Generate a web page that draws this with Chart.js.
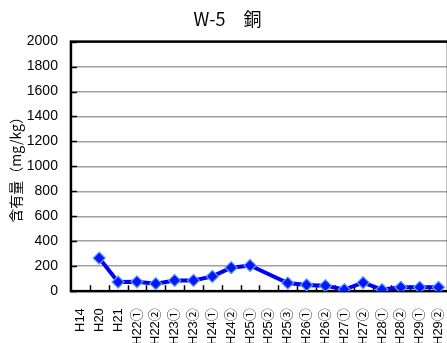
<!DOCTYPE html>
<html lang="ja">
<head>
<meta charset="utf-8">
<title>W-5 銅</title>
<script src="https://cdn.jsdelivr.net/npm/chart.js@4/dist/chart.umd.min.js"></script>
<style>
  html, body { margin: 0; padding: 0; background: #fff; overflow: hidden; }
  canvas { display: block; }
</style>
</head>
<body>
<canvas id="grafico" width="466" height="354"></canvas>
<script>
// 調査時期
const periodos = ['H14', 'H20', 'H21', 'H22①', 'H22②', 'H23①', 'H23②', 'H24①', 'H24②',
  'H25①', 'H25②', 'H25③', 'H26①', 'H26②', 'H27①', 'H27②', 'H28①', 'H28②', 'H29①', 'H29②'];
// 銅の含有量 (mg/kg)、欠測は null
const cobre = [null, 265, 73, 75, 60, 86, 86, 118, 188, 206, null, 65, 50, 44, 13, 68, 13, 31, 31, 31];
const eixoYMax = 2000;
const eixoYPasso = 200;

// 枠線と内向きの目盛り
const molduraPlugin = {
  id: 'moldura',
  beforeDatasetsDraw(chart) {
    const { ctx, chartArea: a, scales: { x, y } } = chart;
    ctx.save();
    ctx.strokeStyle = '#000';
    ctx.lineWidth = 1.5;
    ctx.beginPath();
    const passo = x.width / x.ticks.length;
    for (let i = 1; i < x.ticks.length; i++) {
      const px = Math.round(x.getPixelForTick(i) - passo / 2) + 0.5;
      ctx.moveTo(px, a.bottom);
      ctx.lineTo(px, a.bottom - 6);
    }
    y.ticks.forEach((t, i) => {
      const py = Math.round(y.getPixelForTick(i)) + 0.5;
      ctx.moveTo(a.left, py);
      ctx.lineTo(a.left + 6, py);
    });
    ctx.stroke();
    ctx.lineWidth = 2.5;
    ctx.strokeRect(a.left, a.top, a.right - a.left, a.bottom - a.top);
    ctx.restore();
  }
};

new Chart(document.getElementById('grafico'), {
  type: 'line',
  data: {
    labels: periodos,
    datasets: [{
      label: '銅',
      data: cobre,
      borderColor: '#0000ff',
      borderWidth: 4,
      backgroundColor: '#0000ff',
      pointStyle: 'rectRot',
      pointRadius: 6,
      pointBackgroundColor: '#0a14ff',
      pointBorderColor: '#5aa0f0',
      pointBorderWidth: 1.2,
      spanGaps: true,
      tension: 0
    }]
  },
  plugins: [molduraPlugin],
  options: {
    responsive: false,
    animation: false,
    layout: { padding: { left: 7, right: 18, top: 2, bottom: 0 } },
    plugins: {
      legend: { display: false },
      tooltip: { enabled: false },
      title: {
        display: true,
        text: 'W-5\u3000銅',
        color: '#000',
        font: { family: '"Noto Sans CJK JP"', size: 18, weight: 'normal' },
        padding: { top: 6, bottom: 12 }
      }
    },
    scales: {
      x: {
        offset: true,
        grid: { display: false, offset: true },
        border: { display: false },
        ticks: {
          color: '#000',
          minRotation: 90,
          maxRotation: 90,
          padding: 9,
          autoSkip: false,
          font: { family: '"Liberation Sans", "Noto Sans CJK JP"', size: 13 }
        }
      },
      y: {
        min: 0,
        max: eixoYMax,
        grid: { color: '#a0a0a0', lineWidth: 1.5, drawTicks: false },
        border: { display: false },
        ticks: {
          stepSize: eixoYPasso,
          color: '#000',
          padding: 13,
          callback: v => String(v),
          font: { family: '"Liberation Sans"', size: 14 }
        },
        title: {
          display: true,
          text: '含有量（mg/kg）',
          color: '#000',
          padding: { top: 0, bottom: -10 },
          font: { family: '"Noto Sans CJK JP"', size: 14 }
        }
      }
    }
  }
});
</script>
</body>
</html>
